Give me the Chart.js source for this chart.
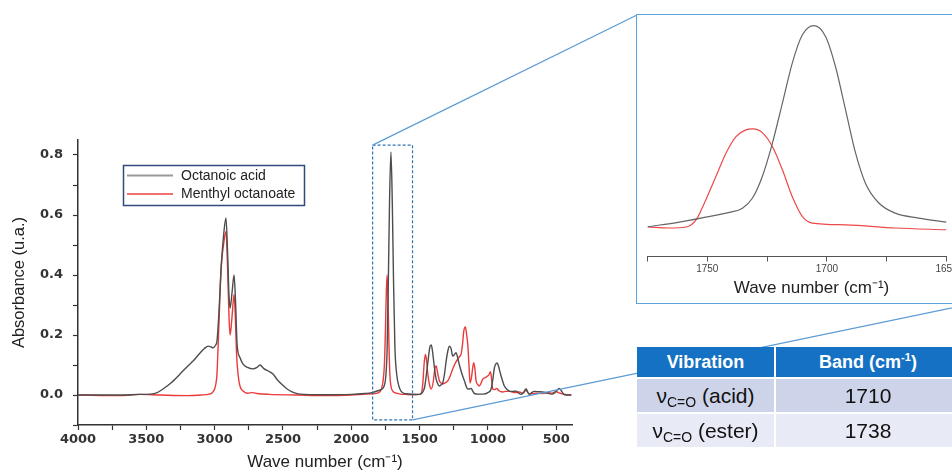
<!DOCTYPE html>
<html>
<head>
<meta charset="utf-8">
<script src="https://cdn.jsdelivr.net/npm/chart.js@4.4.1/dist/chart.umd.min.js"></script>
<style>
  html, body { margin: 0; padding: 0; background: #fff; overflow: hidden; }
  #stage { position: relative; width: 952px; height: 471px; overflow: hidden; font-family: "Liberation Sans", Arial, sans-serif; }
  #main { position: absolute; left: 0; top: 0; }
  #insetBox { position: absolute; left: 636px; top: 14px; width: 340px; height: 288px; border: 1.5px solid #5ba3dc; background: #fff; }
  #inset { position: absolute; left: 0; top: 0; }
  .cell { position: absolute; display: flex; align-items: center; justify-content: center; color: #111; font-size: 21px; white-space: nowrap; }
  .head { background: #1471c3; color: #fff; font-weight: bold; font-size: 18px; }
  .r1 { background: #cdd4e9; }
  .r2 { background: #e8ebf5; }
  .cell sub { font-size: 14px; position: relative; top: 4px; vertical-align: baseline; line-height: 0; }
  .cell sup { font-size: 11px; position: relative; top: -7px; vertical-align: baseline; line-height: 0; }
</style>
</head>
<body>
<div id="stage">
  <canvas id="main" width="952" height="471"></canvas>
  <div id="insetBox"><canvas id="inset" width="340" height="288"></canvas></div>

  <div class="cell head" style="left:637px;top:347px;width:137px;height:30px;"><span>Vibration</span></div>
  <div class="cell head" style="left:776px;top:347px;width:184px;height:30px;"><span>Band (cm<sup>-1</sup>)</span></div>
  <div class="cell r1" style="left:637px;top:379px;width:137px;height:33px;"><span>ν<sub>C=O</sub> (acid)</span></div>
  <div class="cell r1" style="left:776px;top:379px;width:184px;height:33px;"><span>1710</span></div>
  <div class="cell r2" style="left:637px;top:414px;width:137px;height:33px;"><span>ν<sub>C=O</sub> (ester)</span></div>
  <div class="cell r2" style="left:776px;top:414px;width:184px;height:33px;"><span>1738</span></div>
</div>

<script>
'use strict';

// ── Full spectrum: octanoic acid ──────────────────────────────────
const acidWave = [
  4000, 3700, 3550, 3473, 3420, 3378, 3320, 3253, 3200, 3158, 3107, 3075, 3048, 3025, 3012,
  2995, 2983, 2968, 2953, 2935, 2917, 2905, 2895, 2887, 2873, 2858, 2847, 2836, 2815, 2792,
  2760, 2719, 2690, 2668, 2640, 2600, 2573, 2540, 2500, 2470, 2420, 2375, 2200, 2000, 1900,
  1850, 1800, 1775, 1760, 1748, 1738, 1729, 1720, 1710, 1700, 1691, 1681, 1668, 1652, 1635,
  1600, 1500, 1480, 1464, 1450, 1440, 1425, 1415, 1407, 1399, 1390, 1379, 1365, 1355, 1340,
  1331, 1318, 1306, 1292, 1282, 1270, 1258, 1245, 1233, 1222, 1209, 1190, 1172, 1160, 1148,
  1135, 1123, 1110, 1099, 1070, 1038, 1000, 977, 965, 953, 943, 933, 922, 911, 895,
  880, 860, 843, 820, 794, 775, 758, 740, 721, 710, 697, 680, 661, 630, 600,
  560, 527, 505, 490, 478, 465, 450, 441, 410, 390
];
const acidAbs = [
  0.0, 0.0, 0.002, 0.003, 0.008, 0.02, 0.04, 0.07, 0.095, 0.113, 0.14, 0.155, 0.163, 0.16, 0.157,
  0.165, 0.18, 0.28, 0.42, 0.53, 0.59, 0.47, 0.33, 0.29, 0.34, 0.40, 0.31, 0.17, 0.125, 0.103,
  0.092, 0.087, 0.092, 0.10, 0.088, 0.078, 0.07, 0.05, 0.032, 0.02, 0.008, 0.003, 0.001, 0.002, 0.005,
  0.008, 0.015, 0.02, 0.03, 0.06, 0.15, 0.38, 0.65, 0.81, 0.64, 0.38, 0.16, 0.07, 0.03, 0.012,
  0.004, 0.002, 0.008, 0.025, 0.07, 0.108, 0.16, 0.167, 0.15, 0.12, 0.085, 0.053, 0.035, 0.03, 0.035,
  0.04, 0.07, 0.113, 0.15, 0.163, 0.155, 0.13, 0.135, 0.141, 0.125, 0.1, 0.07, 0.047, 0.03, 0.02,
  0.02, 0.022, 0.012, 0.005, 0.003, 0.003, 0.008, 0.02, 0.05, 0.09, 0.103, 0.107, 0.095, 0.075, 0.05,
  0.03, 0.018, 0.013, 0.012, 0.013, 0.006, 0.002, 0.008, 0.02, 0.01, 0.002, 0.008, 0.012, 0.011, 0.01,
  0.006, 0.003, 0.01, 0.018, 0.022, 0.015, 0.005, 0.001, 0.0, 0.0
];

// ── Full spectrum: menthyl octanoate ──────────────────────────────
const esterWave = [
  4000, 3700, 3550, 3400, 3200, 3100, 3040, 3019, 3000, 2990, 2983, 2970, 2953, 2935, 2917,
  2905, 2895, 2887, 2873, 2858, 2848, 2840, 2829, 2815, 2792, 2760, 2720, 2690, 2600, 2400,
  2200, 2000, 1900, 1850, 1800, 1780, 1768, 1758, 1750, 1744, 1738, 1732, 1725, 1718, 1710,
  1695, 1670, 1640, 1600, 1530, 1500, 1486, 1477, 1466, 1457, 1448, 1440, 1428, 1415, 1400,
  1388, 1379, 1367, 1355, 1343, 1331, 1315, 1294, 1275, 1258, 1240, 1221, 1205, 1196, 1186,
  1177, 1165, 1156, 1148, 1139, 1131, 1120, 1112, 1104, 1095, 1087, 1075, 1063, 1050, 1038,
  1020, 1002, 990, 982, 975, 965, 950, 936, 922, 892, 870, 843, 800, 770, 745,
  730, 721, 712, 697, 650, 600, 560, 530, 502, 485, 450, 420, 390
];
const esterAbs = [
  0.0, -0.002, 0.002, 0.0, -0.002, 0.0, 0.003, 0.007, 0.02, 0.04, 0.07, 0.22, 0.42, 0.50, 0.545,
  0.42, 0.26, 0.20, 0.26, 0.335, 0.25, 0.14, 0.07, 0.03, 0.013, 0.006, 0.008, 0.005, 0.002, 0.0,
  -0.002, 0.0, 0.003, 0.004, 0.008, 0.02, 0.045, 0.1, 0.22, 0.34, 0.40, 0.33, 0.18, 0.07, 0.03,
  0.012, 0.006, 0.003, 0.002, 0.001, 0.002, 0.008, 0.037, 0.11, 0.135, 0.11, 0.07, 0.035, 0.02, 0.045,
  0.09, 0.097, 0.07, 0.047, 0.04, 0.037, 0.04, 0.047, 0.065, 0.087, 0.105, 0.12, 0.13, 0.137, 0.17,
  0.213, 0.227, 0.2, 0.17, 0.1, 0.04, 0.06, 0.09, 0.108, 0.085, 0.047, 0.035, 0.03, 0.04, 0.053,
  0.058, 0.063, 0.07, 0.078, 0.06, 0.02, 0.018, 0.022, 0.015, 0.01, 0.012, 0.012, 0.008, 0.01, 0.006,
  0.012, 0.02, 0.012, 0.003, 0.006, 0.005, 0.008, 0.006, 0.012, 0.008, 0.003, 0.001, 0.0
];

// ── Zoomed C=O region (inset) ─────────────────────────────────────
const insetAcidWave = [1775, 1761.7, 1750.6, 1740.8, 1735.3, 1731.1, 1727, 1722.8, 1718.6, 1714.5, 1710.3,
  1705.4, 1700.5, 1696.4, 1692.2, 1688, 1683.9, 1678.3, 1671.4, 1661.7, 1650];
const insetAcidAbs = [0.0, 0.019, 0.039, 0.058, 0.075, 0.116, 0.203, 0.337, 0.499, 0.66, 0.774,
  0.812, 0.767, 0.646, 0.472, 0.297, 0.176, 0.096, 0.055, 0.035, 0.019];
const insetEsterWave = [1775, 1765.8, 1758.9, 1754.7, 1750.6, 1746.4, 1742.2, 1738, 1733.9, 1730.8, 1727,
  1722.8, 1718.6, 1714.5, 1710.3, 1706.1, 1692.2, 1671.4, 1650];
const insetEsterAbs = [-0.001, -0.005, -0.001, 0.028, 0.109, 0.203, 0.297, 0.364, 0.391, 0.395, 0.38,
  0.324, 0.23, 0.122, 0.042, 0.015, 0.008, -0.005, -0.012];

// ── Axis ticks ────────────────────────────────────────────────────
const mainXTicks = [4000, 3750, 3500, 3250, 3000, 2750, 2500, 2250, 2000, 1750, 1500, 1250, 1000, 750, 500];
const mainYTicks = [-0.1, 0.0, 0.1, 0.2, 0.3, 0.4, 0.5, 0.6, 0.7, 0.8];
const insetXTicks = [1775, 1750, 1725, 1700, 1675, 1650];

const seriesLabels = ['Octanoic acid', 'Menthyl octanoate'];

const toPoints = (xs, ys) => xs.map((x, i) => ({ x, y: ys[i] }));
const setTicks = values => scale => { scale.ticks = values.map(value => ({ value })); };

const TICK_FONT = { family: '"DejaVu Sans", sans-serif', size: 13, weight: 'bold' };
const TITLE_FONT = { family: '"Liberation Sans", Arial, sans-serif', size: 17, lineHeight: 1 };

// Legend box drawn over the plot, like the original figure
const boxLegend = {
  id: 'boxLegend',
  afterDraw(chart) {
    const { ctx } = chart;
    ctx.save();
    ctx.fillStyle = '#fff';
    ctx.fillRect(123, 165, 182, 41);
    ctx.strokeStyle = '#2f4b7c';
    ctx.lineWidth = 1.5;
    ctx.strokeRect(123.5, 165.5, 181, 40);
    chart.data.datasets.forEach((ds, i) => {
      const y = 175.5 + i * 18.5;
      ctx.strokeStyle = ds.legendColor;
      ctx.lineWidth = 2;
      ctx.beginPath();
      ctx.moveTo(127, y);
      ctx.lineTo(173, y);
      ctx.stroke();
      ctx.fillStyle = '#222';
      ctx.font = '14px "Liberation Sans", Arial, sans-serif';
      ctx.textBaseline = 'middle';
      ctx.fillText(ds.label, 181, y + 0.5);
    });
    ctx.restore();
  },
};

// Dashed zoom window around the C=O band and the lines to the inset
const zoomWindow = {
  id: 'zoomWindow',
  afterDatasetsDraw(chart) {
    const { ctx, scales: { x, y } } = chart;
    const left = x.getPixelForValue(1844);
    const right = x.getPixelForValue(1552);
    const top = y.getPixelForValue(0.833);
    const bottom = y.getPixelForValue(-0.083);
    ctx.save();
    ctx.strokeStyle = '#2e75b6';
    ctx.lineWidth = 1.2;
    ctx.setLineDash([3, 2]);
    ctx.strokeRect(left, top, right - left, bottom - top);
    ctx.setLineDash([]);
    ctx.strokeStyle = '#5b9bd5';
    ctx.beginPath();
    ctx.moveTo(left, top);
    ctx.lineTo(637, 15);
    ctx.moveTo(right, bottom);
    ctx.lineTo(975, 303);
    ctx.stroke();
    ctx.restore();
  },
};

new Chart(document.getElementById('main'), {
  type: 'line',
  data: {
    datasets: [
      {
        label: seriesLabels[0],
        data: toPoints(acidWave, acidAbs),
        borderColor: '#4d4d4d',
        legendColor: '#9a9a9a',
        borderWidth: 1.4,
      },
      {
        label: seriesLabels[1],
        data: toPoints(esterWave, esterAbs),
        borderColor: '#eb3a3a',
        legendColor: '#f07070',
        borderWidth: 1.4,
      },
    ],
  },
  options: {
    responsive: false,
    animation: false,
    elements: { point: { radius: 0 }, line: { cubicInterpolationMode: 'monotone' } },
    layout: { padding: { left: 0, right: 380, top: 140, bottom: 0 } },
    plugins: { legend: { display: false }, tooltip: { enabled: false } },
    scales: {
      x: {
        type: 'linear',
        reverse: true,
        min: 385,
        max: 4000,
        afterBuildTicks: setTicks(mainXTicks),
        afterFit: scale => { scale.height = 46; },
        ticks: {
          autoSkip: false,
          maxRotation: 0,
          padding: 2,
          color: '#333',
          font: TICK_FONT,
          callback: v => (v % 500 === 0 ? String(v) : ''),
        },
        grid: { drawOnChartArea: false, tickLength: 5, tickColor: '#333', tickWidth: 1.2 },
        border: { color: '#333', width: 1.5 },
        title: { display: true, text: 'Wave number (cm⁻¹)', color: '#222', font: TITLE_FONT, padding: { top: 0, bottom: 0 } },
      },
      y: {
        min: -0.1,
        max: 0.85,
        afterBuildTicks: setTicks(mainYTicks),
        afterFit: scale => { scale.width = 78; },
        ticks: {
          padding: 10,
          color: '#333',
          font: TICK_FONT,
          callback: v => (Math.round(v * 10) % 2 === 0 ? v.toFixed(1) : ''),
        },
        grid: { drawOnChartArea: false, tickLength: 5, tickColor: '#333', tickWidth: 1.2 },
        border: { color: '#333', width: 1.5 },
        title: {
          display: true,
          text: 'Absorbance (u.a.)',
          color: '#222',
          font: { family: '"Liberation Sans", Arial, sans-serif', size: 16.5 },
          padding: { top: 10, bottom: 0 },
        },
      },
    },
  },
  plugins: [zoomWindow, boxLegend],
});

// Inset x-axis title sits a little right of the axis centre
const insetTitle = {
  id: 'insetTitle',
  afterDraw(chart) {
    const { ctx } = chart;
    ctx.save();
    ctx.fillStyle = '#222';
    ctx.font = '17px "Liberation Sans", Arial, sans-serif';
    ctx.textAlign = 'center';
    ctx.textBaseline = 'middle';
    ctx.fillText('Wave number (cm⁻¹)', 174.5, 273);
    ctx.restore();
  },
};

new Chart(document.getElementById('inset'), {
  type: 'line',
  data: {
    datasets: [
      { label: seriesLabels[0], data: toPoints(insetAcidWave, insetAcidAbs), borderColor: '#666', borderWidth: 1.2 },
      { label: seriesLabels[1], data: toPoints(insetEsterWave, insetEsterAbs), borderColor: '#ee4848', borderWidth: 1.2 },
    ],
  },
  options: {
    responsive: false,
    animation: false,
    elements: { point: { radius: 0 }, line: { cubicInterpolationMode: 'monotone' } },
    layout: { padding: { left: 10.5, right: 30.5, top: 0, bottom: 0 } },
    plugins: { legend: { display: false }, tooltip: { enabled: false } },
    scales: {
      x: {
        type: 'linear',
        reverse: true,
        min: 1650,
        max: 1775,
        afterBuildTicks: setTicks(insetXTicks),
        afterFit: scale => { scale.height = 46.5; },
        ticks: {
          autoSkip: false,
          maxRotation: 0,
          padding: 2,
          color: '#444',
          font: { family: '"Liberation Sans", Arial, sans-serif', size: 10 },
          callback: v => (v % 50 === 0 ? String(v) : ''),
        },
        grid: { drawOnChartArea: false, tickLength: 5, tickColor: '#555', tickWidth: 1 },
        border: { color: '#555', width: 1 },
      },
      y: { display: false, min: -0.12, max: 0.855 },
    },
  },
  plugins: [insetTitle],
});
</script>
</body>
</html>
